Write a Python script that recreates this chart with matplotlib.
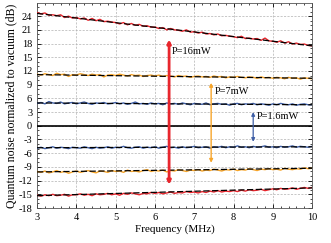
import numpy as np
import matplotlib
matplotlib.use('Agg')
import matplotlib.pyplot as plt
from matplotlib.ticker import MultipleLocator

plt.rcParams['font.family'] = ['Liberation Serif', 'DejaVu Serif']
plt.rcParams['axes.unicode_minus'] = False

# frequency axis, 0.1 MHz steps
freq = np.linspace(3.0, 10.0, 71)

red_hi = [24.8, 24.5, 24.7, 24.2, 24.3, 24.1, 24.3, 23.7, 24.0, 23.6,
          23.7, 23.4, 23.6, 23.1, 23.5, 23.0, 23.3, 22.8, 22.9, 22.7,
          22.6, 22.3, 22.6, 22.1, 22.4, 22.0, 22.2, 21.8, 21.9, 21.6,
          21.6, 21.3, 21.5, 21.0, 21.3, 21.0, 20.9, 20.7, 21.0, 20.5,
          20.6, 20.3, 20.5, 20.1, 20.2, 19.9, 20.1, 19.7, 19.8, 19.6,
          19.5, 19.3, 19.6, 19.1, 19.2, 19.0, 19.1, 18.7, 19.2, 18.6,
          18.5, 18.3, 18.6, 18.1, 18.4, 17.9, 18.1, 17.8, 17.9, 17.6,
          17.5]
orange_hi = [11.3, 11.1, 11.4, 11.2, 11.0, 11.5, 11.2, 11.3, 10.8, 11.2,
             11.1, 11.4, 11.2, 11.0, 11.3, 11.1, 11.2, 10.7, 11.1, 11.2,
             11.0, 11.3, 11.1, 10.9, 11.2, 11.0, 11.1, 10.8, 11.0, 11.1,
             10.9, 11.1, 10.8, 11.0, 10.9, 10.7, 11.0, 10.8, 10.9, 10.6,
             10.8, 10.9, 10.7, 10.8, 10.6, 10.9, 10.7, 10.8, 10.5, 10.7,
             10.6, 10.8, 10.6, 10.5, 10.7, 10.6, 10.4, 10.7, 10.5, 10.6,
             10.4, 10.6, 10.5, 10.3, 10.6, 10.4, 10.5, 10.2, 10.5, 10.4,
             10.3]
blue_hi = [4.9, 5.1, 4.8, 5.3, 5.0, 4.9, 5.2, 4.8, 5.0, 5.1,
           4.8, 5.0, 5.2, 4.9, 4.7, 5.0, 4.9, 5.1, 4.8, 4.9,
           5.1, 4.8, 5.0, 4.7, 4.9, 5.2, 4.8, 4.9, 4.7, 5.0,
           4.8, 4.9, 4.6, 5.0, 4.8, 4.9, 4.7, 5.0, 4.8, 4.6,
           4.9, 4.8, 4.7, 5.0, 4.6, 4.8, 4.9, 4.7, 4.8, 4.5,
           4.8, 4.9, 4.6, 4.8, 4.7, 4.9, 4.6, 4.8, 4.7, 4.5,
           4.8, 4.6, 4.9, 4.7, 4.6, 4.8, 4.5, 4.7, 4.8, 4.6,
           4.6]
blue_lo = [-4.9, -4.7, -5.0, -4.8, -4.6, -4.9, -4.7, -4.8, -5.0, -4.7,
           -4.8, -4.9, -4.6, -4.8, -5.0, -4.7, -4.9, -4.8, -4.6, -4.9,
           -4.7, -4.8, -4.5, -4.8, -4.9, -4.7, -4.6, -4.9, -4.7, -4.8,
           -4.6, -4.9, -4.7, -4.5, -4.8, -4.7, -4.9, -4.6, -4.8, -4.7,
           -4.5, -4.8, -4.7, -4.6, -4.9, -4.6, -4.7, -4.5, -4.8, -4.6,
           -4.7, -4.4, -4.7, -4.6, -4.8, -4.5, -4.7, -4.6, -4.4, -4.7,
           -4.6, -4.8, -4.5, -4.7, -4.6, -4.4, -4.7, -4.5, -4.6, -4.7,
           -4.5]
orange_lo = [-10.0, -10.2, -9.9, -10.3, -10.1, -9.8, -10.2, -10.0, -10.4, -10.1,
             -9.9, -10.2, -10.0, -9.8, -10.1, -10.3, -9.9, -10.0, -10.2, -9.8,
             -10.0, -9.9, -10.2, -9.7, -10.0, -9.9, -10.1, -9.8, -9.6, -10.0,
             -9.8, -9.9, -9.7, -10.1, -9.8, -9.9, -9.6, -9.8, -10.0, -9.7,
             -9.8, -9.6, -9.9, -9.7, -9.8, -9.5, -9.7, -9.9, -9.6, -9.7,
             -9.5, -9.8, -9.6, -9.7, -9.4, -9.6, -9.8, -9.5, -9.6, -9.4,
             -9.6, -9.5, -9.7, -9.3, -9.5, -9.6, -9.4, -9.5, -9.2, -9.4,
             -9.3]
red_lo = [-15.2, -15.4, -15.1, -15.3, -15.0, -15.3, -15.2, -15.0, -15.4, -15.1,
          -15.1, -14.9, -15.2, -15.0, -15.3, -14.9, -15.1, -15.0, -14.8, -15.1,
          -14.9, -15.2, -14.8, -15.0, -14.7, -14.9, -15.1, -14.8, -14.9, -14.6,
          -14.8, -14.6, -14.9, -14.7, -14.5, -14.8, -14.6, -14.7, -14.4, -14.6,
          -14.5, -14.7, -14.4, -14.6, -14.3, -14.5, -14.2, -14.5, -14.3, -14.4,
          -14.2, -14.4, -14.1, -14.3, -14.0, -14.2, -14.1, -13.9, -14.2, -14.0,
          -13.8, -14.0, -13.7, -13.9, -13.8, -13.6, -13.9, -13.7, -13.5, -13.7,
          -13.5]

# linear fits: value at 3 MHz and at 10 MHz
fit_ends = [(24.6, 17.5), (11.2, 10.4), (5.0, 4.6),
            (-4.8, -4.6), (-10.1, -9.3), (-15.3, -13.6)]

# pump power markers: frequency, lower end, upper end, label, label height
powers = ['P=16mW', 'P=7mW', 'P=1.6mW']
arrow_freq = [6.36, 7.43, 8.5]
arrow_lo = [-12.9, -8.1, -3.5]
arrow_hi = [18.9, 9.4, 3.0]
label_y = [16.3, 7.6, 2.1]

RED = '#e8262d'
ORANGE = '#f7a52a'
BLUE = '#3f5fa6'

fig = plt.figure(figsize=(3.31, 2.43), dpi=100)
ax = fig.add_axes([0.112, 0.144, 0.831, 0.844])

traces = [(red_hi, RED), (orange_hi, ORANGE), (blue_hi, BLUE),
          (blue_lo, BLUE), (orange_lo, ORANGE), (red_lo, RED)]
for vals, col in traces:
    ax.plot(freq, vals, color=col, lw=1.0, zorder=3)
for a, b in fit_ends:
    ax.plot([3, 10], [a, b], color='black', ls=(0, (5, 2)), lw=0.9, zorder=4)

ax.axhline(0, color='black', lw=1.2, zorder=4)

cols = [RED, ORANGE, BLUE]
widths = [2.0, 1.0, 0.9]
for f, lo, hi, lab, ly, col, w in zip(arrow_freq, arrow_lo, arrow_hi, powers, label_y, cols, widths):
    ax.annotate('', xy=(f, hi), xytext=(f, lo),
                arrowprops=dict(arrowstyle='<|-|>', color=col, lw=w,
                                mutation_scale=5, shrinkA=0, shrinkB=0), zorder=5)
    ax.text(f + 0.08, ly, lab, fontsize=7.5, va='center', ha='left', zorder=6)

ax.set_xlim(3, 10)
ax.set_ylim(-18, 26.9)
ax.xaxis.set_major_locator(MultipleLocator(1))
ax.xaxis.set_minor_locator(MultipleLocator(0.2))
ax.yaxis.set_major_locator(MultipleLocator(3))
ax.yaxis.set_minor_locator(MultipleLocator(1))
ax.tick_params(which='both', direction='in', top=True, right=True, labelsize=7.5)
ax.tick_params(which='major', length=3, width=0.6)
ax.tick_params(which='minor', length=1.5, width=0.5)
ax.grid(True, which='major', color='#b0b0b0', ls=(0, (3, 2)), lw=0.5)
for s in ax.spines.values():
    s.set_linewidth(0.6)
    s.set_color('#555555')

ax.set_xlabel('Frequency (MHz)', fontsize=8, labelpad=2)
ax.set_ylabel('Quantum noise normalized to vacuum (dB)', fontsize=8.5, labelpad=1)

fig.savefig('out.png', dpi=100)
